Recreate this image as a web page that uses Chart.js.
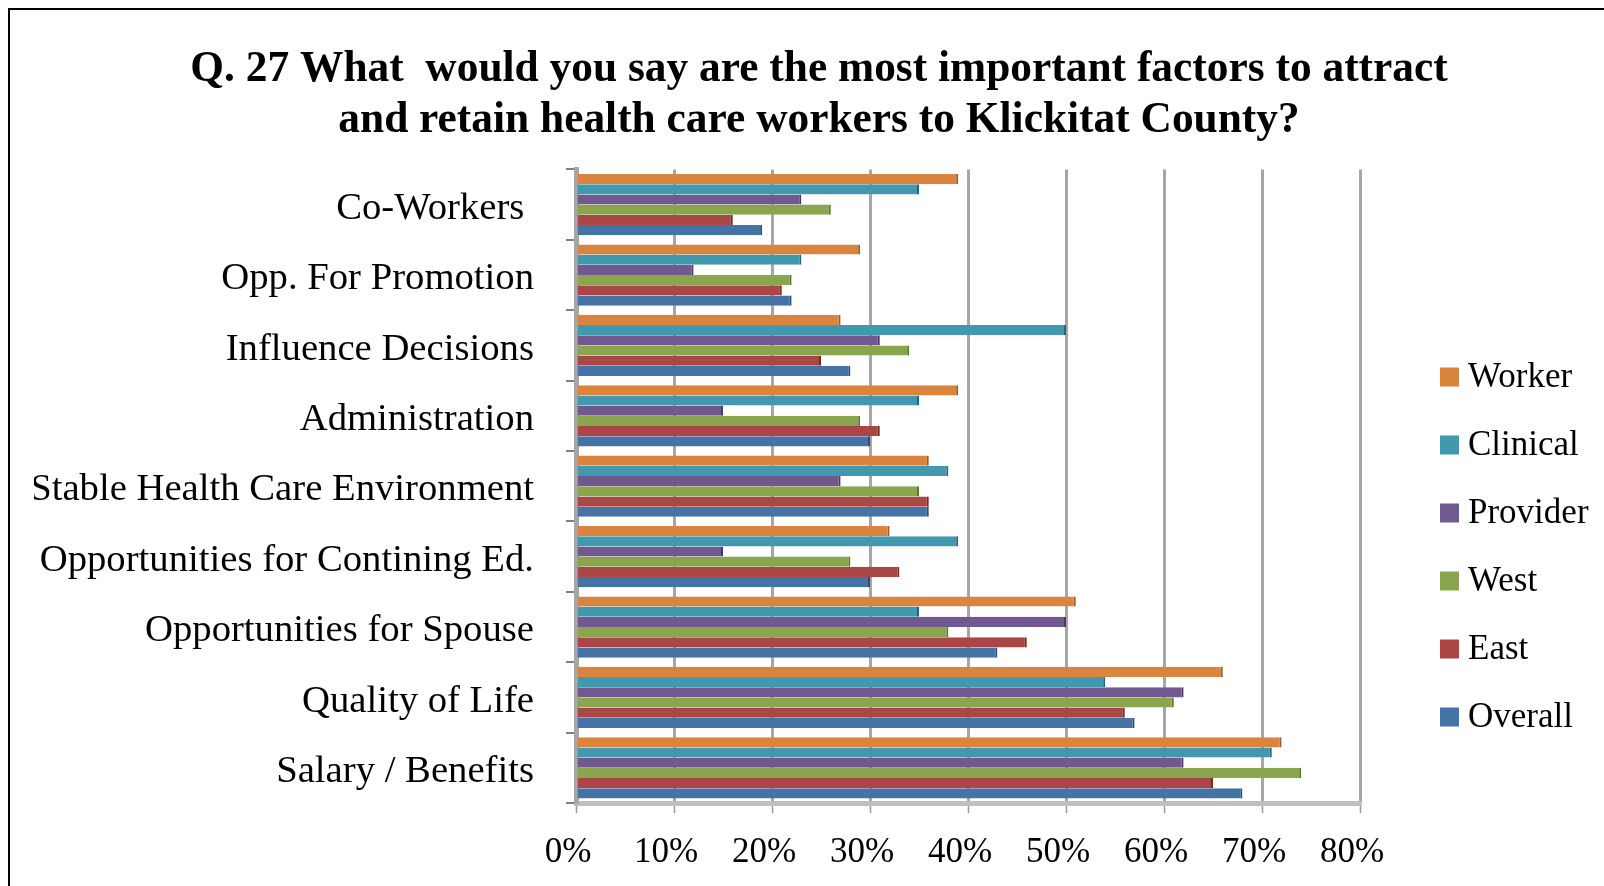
<!DOCTYPE html>
<html>
<head>
<meta charset="utf-8">
<title>Q. 27 Health care workers</title>
<script src="https://cdn.jsdelivr.net/npm/chart.js@4.4.1/dist/chart.umd.min.js"></script>
<style>
    html, body { margin: 0; padding: 0; background: #fff; overflow: hidden; }
    .wrap { position: relative; width: 1604px; height: 886px; }
    .frame { position: absolute; left: 8px; top: 8px; width: 1700px; height: 1000px; border: 2px solid #000; }
    #chart { position: absolute; left: 0; top: 0; }
</style>
</head>
<body>
<div class="wrap">
    <div class="frame"></div>
    <canvas id="chart" width="1604" height="886"></canvas>
</div>
<script>
// Categories, top to bottom
const categories = [
    'Co-Workers ', 'Opp. For Promotion', 'Influence Decisions', 'Administration',
    'Stable Health Care Environment', 'Opportunities for Contining Ed.',
    'Opportunities for Spouse', 'Quality of Life', 'Salary / Benefits'
];

// Percent values
const worker   = [39, 29, 27, 39, 36, 32, 51, 66, 72];
const clinical = [35, 23, 50, 35, 38, 39, 35, 54, 71];
const provider = [23, 12, 31, 15, 27, 15, 50, 62, 62];
const west     = [26, 22, 34, 29, 35, 28, 38, 61, 74];
const east     = [16, 21, 25, 31, 36, 33, 46, 56, 65];
const overall  = [19, 22, 28, 30, 36, 30, 43, 57, 68];

const xTicks = [0, 10, 20, 30, 40, 50, 60, 70, 80];

const serif = '"Liberation Serif", "Times New Roman", serif';

function series(label, data, color, edge) {
    return {
        label: label,
        data: data,
        backgroundColor: color,
        borderColor: edge,
        borderWidth: { right: 2, left: 0, top: 0, bottom: 0 },
        borderSkipped: 'left',
        categoryPercentage: 0.87,
        barPercentage: 1.0
    };
}

// Legend drawn to the right of the plot, one row per dataset
const sideLegend = {
    id: 'sideLegend',
    afterDraw(chart) {
        const c = chart.ctx;
        const left = chart.chartArea.right + 80;
        const top = 377;
        const step = 68;
        const box = 19;
        c.save();
        c.font = '35px ' + serif;
        c.textBaseline = 'middle';
        c.fillStyle = '#000';
        chart.data.datasets.forEach((ds, i) => {
            const y = top + i * step;
            c.fillStyle = ds.backgroundColor;
            c.fillRect(left, y - box / 2, box, box);
            c.fillStyle = '#000';
            c.fillText(ds.label, left + box + 9, y + 1);
        });
        c.restore();
    }
};

const ctx = document.getElementById('chart').getContext('2d');
new Chart(ctx, {
    type: 'bar',
    data: {
        labels: categories,
        datasets: [
            series('Worker', worker, '#DB843D', '#9E5A24'),
            series('Clinical', clinical, '#4198AF', '#25677A'),
            series('Provider', provider, '#71588F', '#4A3763'),
            series('West', west, '#89A54E', '#5E7530'),
            series('East', east, '#AA4643', '#752A28'),
            series('Overall', overall, '#4572A7', '#2A4D78')
        ]
    },
    plugins: [sideLegend],
    options: {
        indexAxis: 'y',
        responsive: false,
        devicePixelRatio: 1,
        animation: false,
        layout: { padding: { left: 34, right: 0, top: 0, bottom: 0 } },
        scales: {
            x: {
                min: 0,
                max: 80,
                afterBuildTicks: function(scale) {
                    scale.ticks = xTicks.map(v => ({ value: v }));
                },
                afterFit: function(scale) { scale.height = 83; },
                grid: {
                    color: '#A6A6A6',
                    lineWidth: 3,
                    tickColor: '#9A9A9A',
                    tickWidth: 1.5,
                    tickLength: 10
                },
                border: { color: '#BFBFBF', width: 5 },
                ticks: {
                    padding: 19,
                    labelOffset: -8,
                    color: '#000',
                    font: { family: serif, size: 35 },
                    callback: v => v + '%'
                }
            },
            y: {
                afterFit: function(scale) { scale.width = 542; },
                grid: {
                    drawOnChartArea: false,
                    color: '#808080',
                    lineWidth: 2,
                    tickLength: 10
                },
                border: { color: '#A6A6A6', width: 5 },
                ticks: {
                    padding: 32,
                    labelOffset: 4,
                    color: '#000',
                    autoSkip: false,
                    font: { family: serif, size: 38.7 }
                }
            },
            // room on the right for the legend
            spacer: {
                type: 'category',
                position: 'right',
                labels: [''],
                grid: { display: false },
                border: { display: false },
                ticks: { display: false },
                afterFit: function(scale) { scale.width = 244; }
            }
        },
        plugins: {
            title: {
                display: true,
                text: [
                    'Q. 27 What  would you say are the most important factors to attract',
                    'and retain health care workers to Klickitat County?'
                ],
                color: '#000',
                font: { family: serif, size: 43.4, weight: 'bold', lineHeight: 1.18 },
                padding: { top: 44, bottom: 23 }
            },
            legend: { display: false },
            tooltip: { enabled: false }
        }
    }
});
</script>
</body>
</html>
